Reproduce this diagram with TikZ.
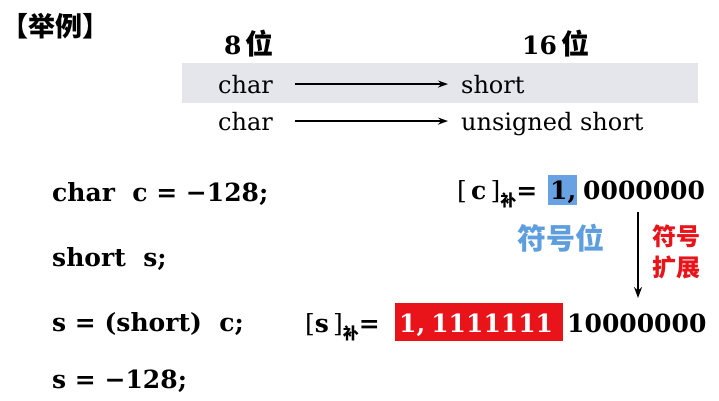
\documentclass[tikz,border=0pt]{standalone}
\usepackage{fontspec}
\setmainfont{DejaVu Serif}
\newfontfamily\cjk{Noto Sans CJK SC}
\usetikzlibrary{arrows.meta}
\definecolor{band}{RGB}{229,230,236}
\definecolor{sred}{RGB}{232,20,26}
\definecolor{sblue}{RGB}{95,158,222}
\definecolor{bblue}{RGB}{105,162,226}
\begin{document}
\begin{tikzpicture}[x=1pt,y=-1pt,
  txt/.style={inner sep=0pt, anchor=base west},
  rowtxt/.style={txt, font=\fontsize{24}{28}\selectfont},
  codetxt/.style={txt, font=\bfseries\fontsize{25}{30}\selectfont},
  head/.style={txt, font=\bfseries\fontsize{25}{30}\selectfont},
  conv/.style={line width=1.8pt, -{Stealth[length=10pt,width=7pt]}},
  ext/.style={line width=1.6pt, -{Stealth[length=11pt,width=8pt]}},
  cjkb/.style={inner sep=0pt, font=\cjk\bfseries}]
\useasboundingbox (0,0) rectangle (719,400);
\fill[white] (0,0) rectangle (719,400);

% title
\node[cjkb, anchor=west, font=\cjk\bfseries\fontsize{27}{30}\selectfont] (title) at (1,26) {【举例】};

% headers
\node[head] (h8) at (224,54) {8\,{\cjk\fontsize{28}{30}\selectfont 位}};
\node[head] (h16) at (522,54) {16\,{\cjk\fontsize{28}{30}\selectfont 位}};

% band
\node[fill=band, inner sep=0pt, minimum width=516pt, minimum height=40pt, anchor=north west] (band) at (182,63) {};

% conversion rows
\node[rowtxt] (char1) at (218,93) {char};
\node[rowtxt] (short1) at (461,93) {short};
\node[rowtxt] (char2) at (218,130) {char};
\node[rowtxt] (ushort) at (461,130) {unsigned short};
\draw[conv, shorten <=22pt, shorten >=13pt] (char1.east) -- (char1.east -| short1.west);
\draw[conv, shorten <=22pt, shorten >=13pt] (char2.east) -- (char2.east -| ushort.west);

% code lines
\node[codetxt] (l1) at (52,201) {char\ \ c = −128;};
\node[codetxt] (l2) at (52,266) {short\ \ s;};
\node[codetxt] (l3) at (52,331) {s = (short)\ \ c;};
\node[codetxt] (l4) at (52,388) {s = −128;};

% [c] complement
\node[txt, font=\fontsize{25}{30}\selectfont] (cc) at (457,199) {[\,\textbf{c}\,]\raisebox{-7pt}{\cjk\bfseries\fontsize{16}{16}\selectfont 补}\textbf{=}};
\node[fill=bblue, inner sep=0pt, minimum width=29pt, minimum height=30pt, anchor=north west] (sbox) at (548,175) {};
\node[codetxt] (sbit) at (550,199) {1,};
\node[codetxt] (czeros) at (583,199) {0000000};

% sign bit label
\node[cjkb, text=sblue, font=\cjk\bfseries\fontsize{29}{32}\selectfont] (fhw) at (561,238) {符号位};

% sign extension arrow
\coordinate (vt) at (638,212);
\coordinate (vb) at (638,298);
\draw[ext] (vt) -- (vb);
\node[cjkb, text=sred, font=\cjk\bfseries\fontsize{24}{26}\selectfont] (fh) at (676,236) {符号};
\node[cjkb, text=sred, font=\cjk\bfseries\fontsize{24}{26}\selectfont] (kz) at (676,267) {扩展};

% [s] complement
\node[txt, font=\fontsize{25}{30}\selectfont] (sc) at (305,332) {[\textbf{s}\,]\raisebox{-7pt}{\cjk\bfseries\fontsize{16}{16}\selectfont 补}\textbf{=}};
\node[fill=sred, inner sep=0pt, minimum width=168pt, minimum height=38pt, anchor=north west] (rbox) at (395,303) {};
\node[codetxt, text=white] (ones) at (399,332) {1,\hspace{6pt}1111111};
\node[codetxt] (szeros) at (567,332) {10000000};
\end{tikzpicture}
\end{document}
